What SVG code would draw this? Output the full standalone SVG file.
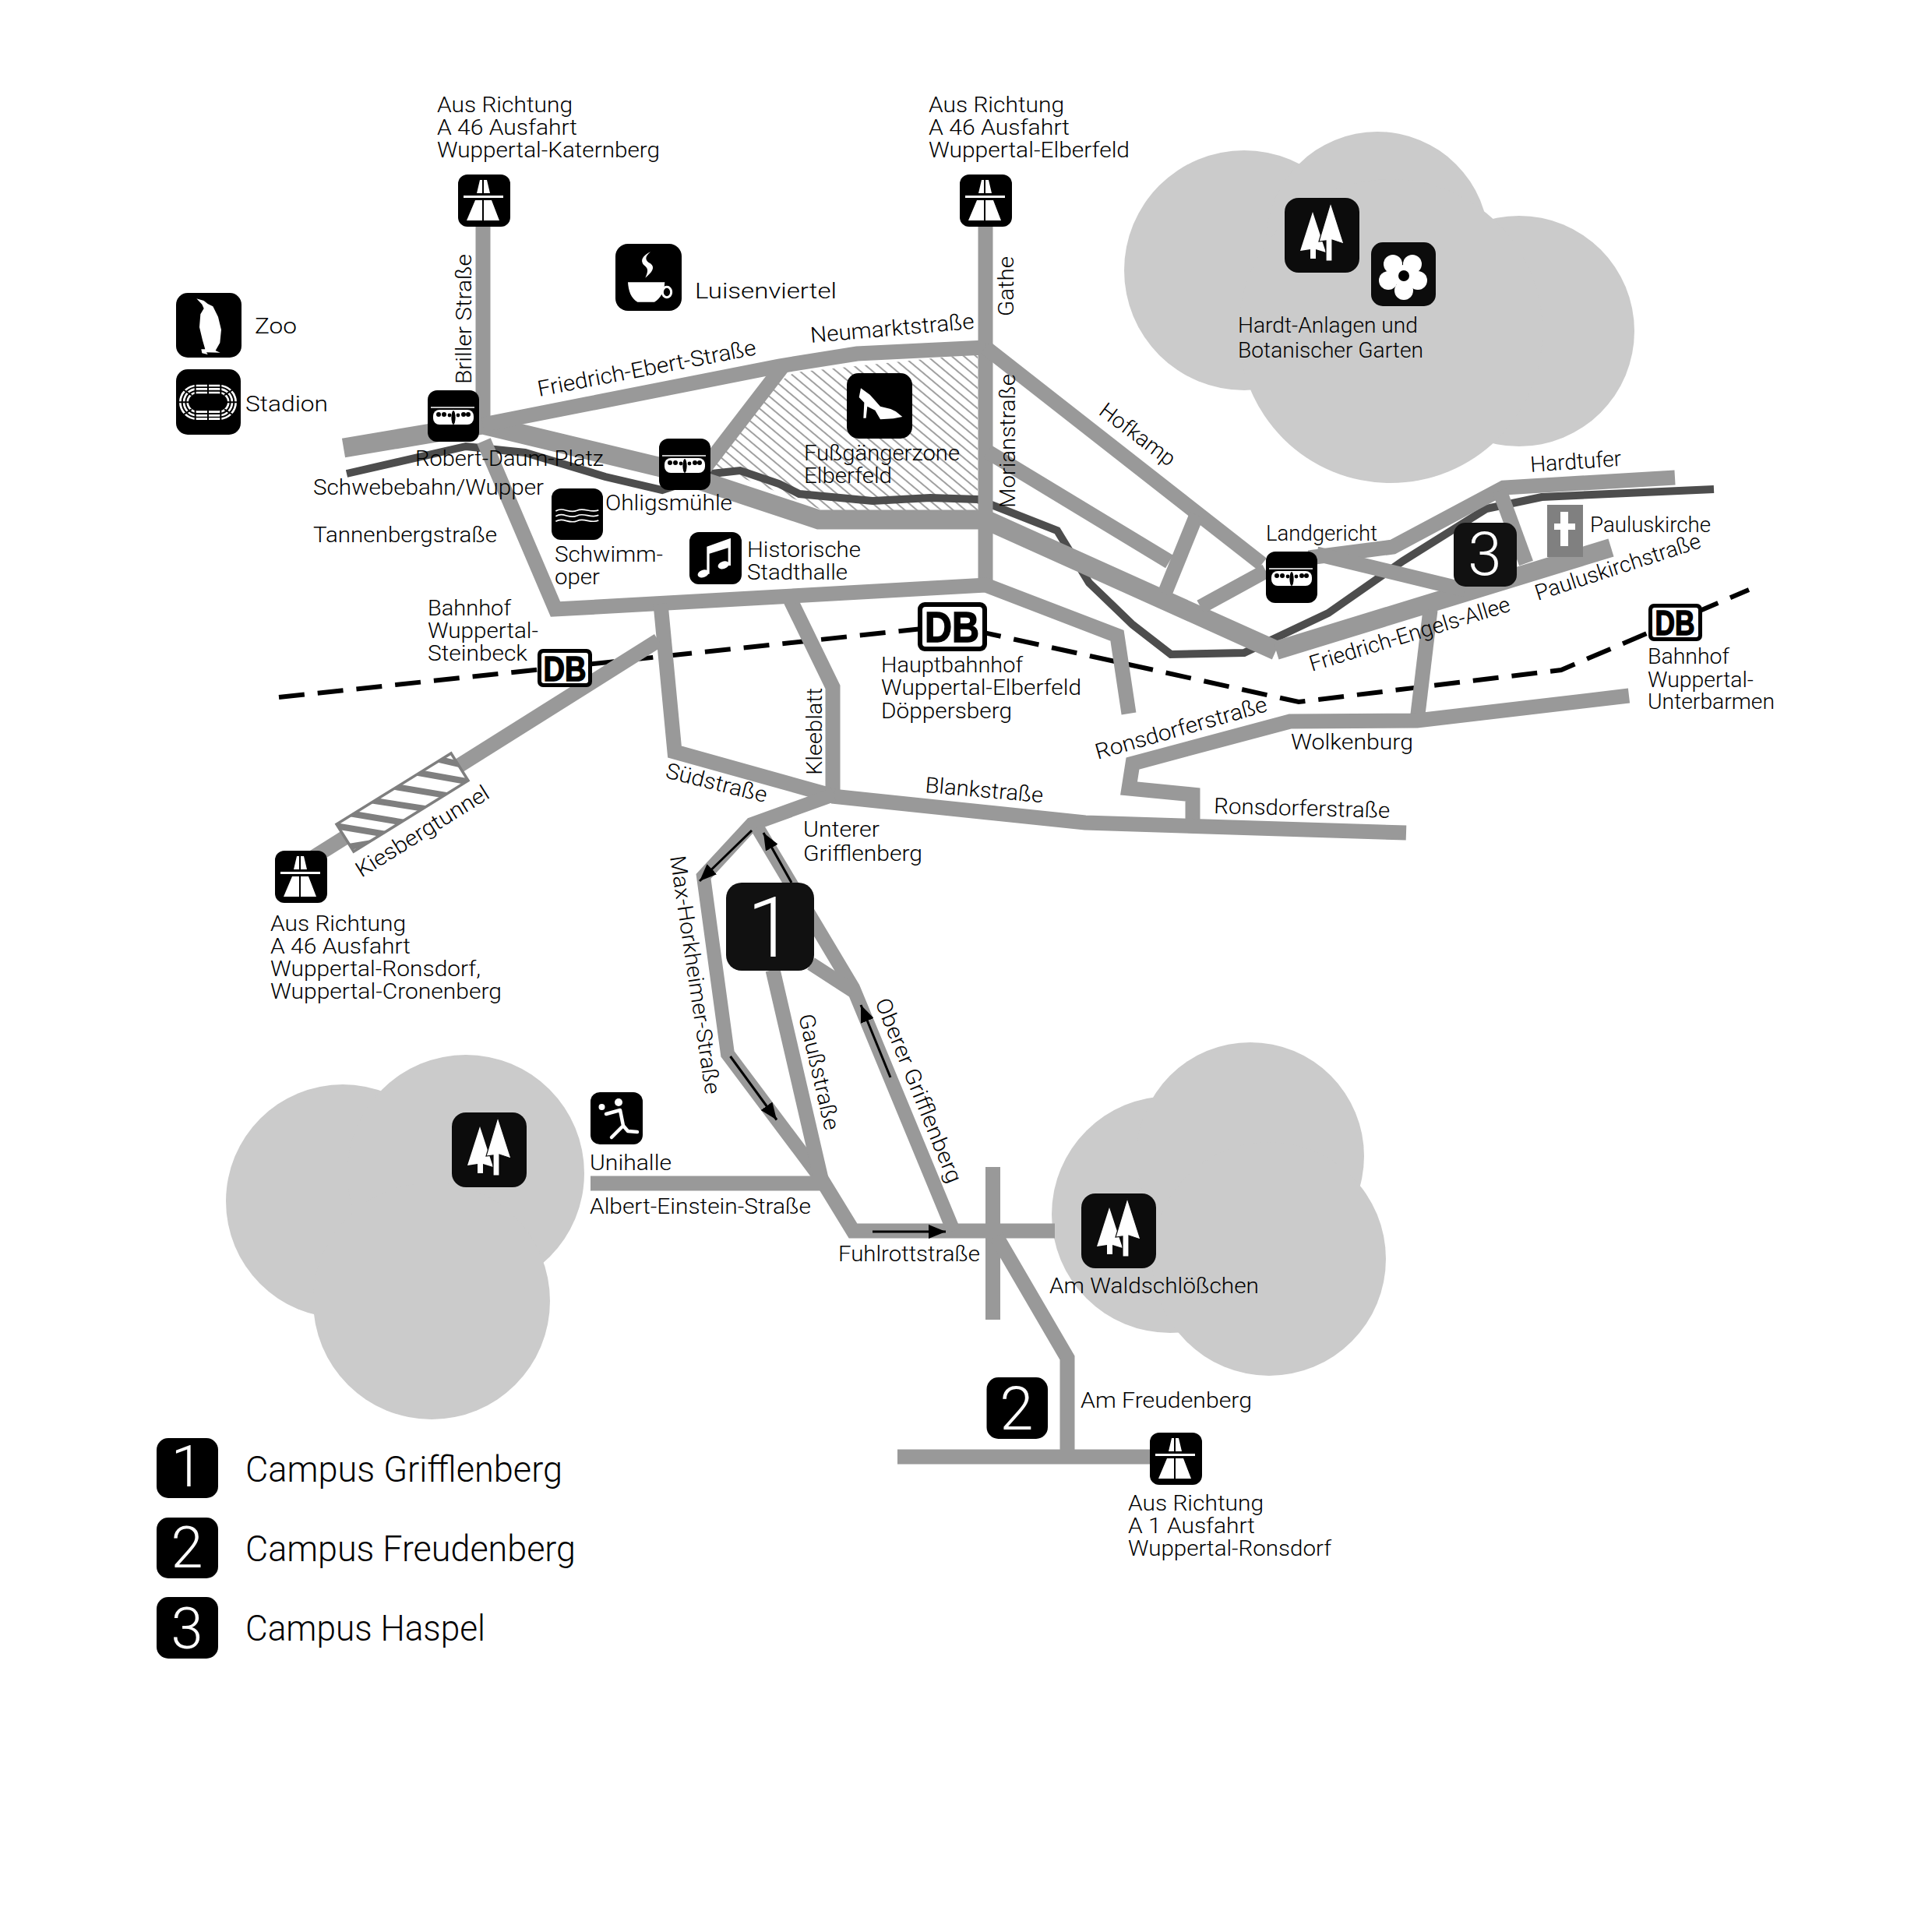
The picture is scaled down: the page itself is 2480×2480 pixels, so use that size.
<svg xmlns="http://www.w3.org/2000/svg" width="2480" height="2480" viewBox="0 0 2480 2480">
<style>
text{font-family:"Roboto","Liberation Sans",sans-serif;font-weight:300;font-size:28px;fill:#000}
.big{font-size:46px}
.num{fill:#fff;text-anchor:middle}
.db{font-family:"Liberation Sans",sans-serif;font-weight:700;stroke:#000;stroke-width:1.5px;text-anchor:start}
.r{fill:none;stroke:#999;stroke-width:19;stroke-linejoin:miter}
.cl{fill:#cbcbcb}
.ar{fill:none;stroke:#000;stroke-width:3;marker-end:url(#ah)}
.w{fill:#fff}
.ws{fill:none;stroke:#fff}
</style>
<defs>
<marker id="ah" markerUnits="userSpaceOnUse" markerWidth="24" markerHeight="18" refX="22" refY="9" orient="auto"><path d="M0,0L22,9L0,18Z"/></marker>
<pattern id="hatch" width="10" height="10" patternUnits="userSpaceOnUse" patternTransform="rotate(40)"><line x1="0" y1="5" x2="10" y2="5" stroke="#777" stroke-width="1.4"/></pattern>
<clipPath id="tun"><path d="M579,967L601,1002L454,1093L432,1058Z"/></clipPath>
<g id="autobahn"><rect width="67" height="67" rx="12"/><path class="w" d="M11,59L31,59L31,33L22,33ZM33,33L33,59L53,59L43,33ZM24,24L31,24L31,7L28,7ZM33,24L41,24L37,7L33,7ZM7,27H58V30H7Z"/></g>
<g id="schwebe"><rect width="66" height="66" rx="12"/><path class="ws" stroke-width="1.5" d="M4,22H60"/><rect class="w" x="7" y="25" width="52" height="19" rx="8"/><g><circle cx="14" cy="31" r="3"/><circle cx="21" cy="31" r="3"/><circle cx="28" cy="32" r="2.4"/><ellipse cx="33" cy="35" rx="2.6" ry="9"/><circle cx="39" cy="32" r="2.4"/><circle cx="46" cy="31" r="3"/><circle cx="52" cy="31" r="3"/></g></g>
<g id="trees"><rect width="96" height="96" rx="18" fill="#0c0c0c"/><path class="w" d="M36,18L53,70L40,66V78H33V66L20,68Z"/><path class="w" stroke="#0c0c0c" stroke-width="1.2" d="M59,6L76,59L61,54V81H53V55L44,56Z"/></g>
</defs>
<g id="clouds">
<circle class="cl" cx="1597" cy="347" r="154"/><circle class="cl" cx="1768" cy="312" r="143"/><circle class="cl" cx="1950" cy="425" r="148"/><circle class="cl" cx="1785" cy="425" r="195"/>
<circle class="cl" cx="440" cy="1542" r="150"/><circle class="cl" cx="598" cy="1506" r="152"/><circle class="cl" cx="554" cy="1670" r="152"/>
<circle class="cl" cx="1502" cy="1559" r="152"/><circle class="cl" cx="1605" cy="1484" r="146"/><circle class="cl" cx="1629" cy="1616" r="150"/>
</g>
<path id="fussgaengerzone" d="M1020,478L1255,454V655H1056L917,599L1000,490Z" fill="url(#hatch)"/>
<g id="connectors">
<path fill="none" stroke="#4d4d4d" stroke-width="10" d="M445,608L598,573L674,581L777,612L850,629L914,608L950,604L1000,621L1026,634L1120,643L1194,639L1255,641L1357,681L1398,748L1454,802L1503,840L1597,838L1705,787L1801,720L1908,653L1979,638L2200,628"/>
<path fill="none" stroke="#000" stroke-width="6" stroke-dasharray="33 17" d="M358,895L1222,803L1667,901L2004,860L2245,757"/>
<path class="r" style="stroke-width:25" d="M441,575L620,545L845,599L1051,667L1265,667L1638,835"/>
<path class="r" style="stroke-width:24" d="M1638,835L2068,703"/>
<path class="r" d="M620,260V545"/><path class="r" d="M1265,260V750"/>
<path class="r" d="M620,545L1000,470L1100,454L1265,446"/>
<path class="r" d="M1005,470L905,600"/>
<path class="r" d="M1265,446L1620,724"/><path class="r" d="M1268,580L1501,721"/><path class="r" d="M1536,661L1495,762"/><path class="r" d="M1541,779L1625,733"/>
<path class="r" d="M1680,716L1788,702L1930,626L2150,613"/><path class="r" d="M1690,711L1880,757"/><path class="r" d="M1925,630L1959,723"/><path class="r" d="M1836,783L1819,925"/>
<path class="r" d="M2091,893L1819,925L1656,926L1454,980L1449,1012L1531,1020V1056"/>
<path class="r" d="M1068,1022L1393,1056L1805,1069"/>
<path class="r" d="M1015,771L1069,882V1025"/>
<path class="r" d="M621,566L713,782L1000,766L1265,751L1434,816L1449,916"/>
<path class="r" d="M848,775L866,965L1070,1022"/>
<path class="r" d="M845,822L395,1105"/>
<path class="r" style="stroke-width:18" d="M1070,1020L965,1058L903,1125L934,1353L1054,1513"/>
<path class="r" d="M992,1245L1054,1513"/>
<path class="r" d="M1054,1513L1095,1580H1354"/>
<path class="r" style="stroke-width:18" d="M972,1062L1095,1268L1224,1580"/>
<path class="r" style="stroke-width:18" d="M1041,1237L1095,1272"/>
<path class="r" d="M758,1519H1058"/><path class="r" d="M1274.5,1498V1694"/><path class="r" d="M1279,1587L1370,1743V1870"/><path class="r" d="M1152,1870H1478"/>
<g id="kiesbergtunnel"><path d="M579,967L601,1002L454,1093L432,1058Z" fill="#fff"/><g clip-path="url(#tun)" stroke="#7f7f7f" stroke-width="8"><path d="M547,971L607,985M520,989L610,1005M495,1008L585,1023M468,1026L558,1040M442,1043L532,1058M418,1058L508,1073M430,1090L490,1080"/></g><path d="M579,967L601,1002L454,1093L432,1058Z" fill="none" stroke="#7f7f7f" stroke-width="3.5"/></g>
<path class="ar" d="M965,1066L898,1131"/><path class="ar" d="M1016,1133L980,1069"/><path class="ar" d="M1143,1383L1105,1290"/><path class="ar" d="M937.5,1356L997,1437.5"/><path class="ar" d="M1120,1581H1214"/>
</g>
<g id="db-steinbeck"><rect x="690" y="833" width="70" height="49" rx="7"/><rect x="695" y="838" width="60" height="39" rx="3" fill="#fff"/><text class="db" x="697.5" y="873.5" style="font-size:45px" textLength="55" lengthAdjust="spacingAndGlyphs">DB</text></g>
<g id="db-hbf"><rect x="1178" y="773" width="89" height="63" rx="9"/><rect x="1184" y="779" width="77" height="51" rx="4" fill="#fff"/><text class="db" x="1187" y="824" style="font-size:56px" textLength="70" lengthAdjust="spacingAndGlyphs">DB</text></g>
<g id="db-unterbarmen"><rect x="2116" y="775" width="69" height="48" rx="7"/><rect x="2121" y="780" width="59" height="38" rx="3" fill="#fff"/><text class="db" x="2124.5" y="815" style="font-size:44px" textLength="51" lengthAdjust="spacingAndGlyphs">DB</text></g>
<g id="autobahn-katernberg"><use href="#autobahn" x="588" y="224"/><text x="561" y="144" textLength="174" lengthAdjust="spacingAndGlyphs">Aus Richtung</text><text x="561" y="173" textLength="180" lengthAdjust="spacingAndGlyphs">A 46 Ausfahrt</text><text x="561" y="202" textLength="286" lengthAdjust="spacingAndGlyphs">Wuppertal-Katernberg</text></g>
<g id="autobahn-elberfeld"><use href="#autobahn" x="1232" y="224"/><text x="1192" y="144" textLength="174" lengthAdjust="spacingAndGlyphs">Aus Richtung</text><text x="1192" y="173" textLength="181" lengthAdjust="spacingAndGlyphs">A 46 Ausfahrt</text><text x="1192" y="202" textLength="258" lengthAdjust="spacingAndGlyphs">Wuppertal-Elberfeld</text></g>
<g id="autobahn-ronsdorf"><use href="#autobahn" x="353" y="1092"/><text x="347" y="1195" textLength="174" lengthAdjust="spacingAndGlyphs">Aus Richtung</text><text x="347" y="1224" textLength="180" lengthAdjust="spacingAndGlyphs">A 46 Ausfahrt</text><text x="347" y="1253" textLength="270" lengthAdjust="spacingAndGlyphs">Wuppertal-Ronsdorf,</text><text x="347" y="1282" textLength="297" lengthAdjust="spacingAndGlyphs">Wuppertal-Cronenberg</text></g>
<g id="autobahn-a1"><use href="#autobahn" x="1476" y="1839"/><text x="1448" y="1939" textLength="174" lengthAdjust="spacingAndGlyphs">Aus Richtung</text><text x="1448" y="1968" textLength="163" lengthAdjust="spacingAndGlyphs">A 1 Ausfahrt</text><text x="1448" y="1997" textLength="261" lengthAdjust="spacingAndGlyphs">Wuppertal-Ronsdorf</text></g>
<g id="robert-daum-platz"><use href="#schwebe" x="549" y="501"/><text x="533" y="598" textLength="242" lengthAdjust="spacingAndGlyphs">Robert-Daum-Platz</text></g>
<g id="ohligsmuehle"><use href="#schwebe" x="846" y="563"/><text x="777" y="655" textLength="163" lengthAdjust="spacingAndGlyphs">Ohligsmühle</text></g>
<g id="landgericht"><use href="#schwebe" x="1625" y="708"/><text x="1625" y="694" textLength="143" lengthAdjust="spacingAndGlyphs">Landgericht</text></g>
<g id="zoo"><rect x="226" y="376" width="84" height="83" rx="15"/><path class="w" transform="translate(220,370) scale(.3333)" d="M97,40L125,48L140,60L160,70L180,110L192,160L187,210L170,240L188,248L135,247L140,255L118,250L115,235L130,235L120,200L108,150L112,100L125,78L118,62Z"/><text x="327" y="428" textLength="54" lengthAdjust="spacingAndGlyphs">Zoo</text></g>
<g id="stadion"><rect x="226" y="474" width="83" height="84" rx="15"/><g transform="translate(220,370) scale(.3333)"><g class="ws" stroke-width="8"><rect x="34" y="375" width="214" height="128" rx="64"/><rect x="48" y="388" width="186" height="102" rx="51"/><rect x="62" y="402" width="158" height="74" rx="37"/></g><path fill="none" stroke="#000" stroke-width="6" d="M92,365V412M141,365V412M190,365V412M92,466V512M141,466V512M190,466V512M25,439H72M210,439H257M45,390L78,412M237,390L204,412M45,488L78,466M237,488L204,466"/></g><text x="315" y="528" textLength="106" lengthAdjust="spacingAndGlyphs">Stadion</text></g>
<g id="luisenviertel"><rect x="790" y="313" width="85" height="86" rx="16"/><g transform="translate(780,305) scale(.3333)"><path class="w" d="M78,172H220C218,205 205,235 180,248H115C90,235 80,205 78,172Z"/><ellipse class="ws" stroke-width="9" cx="228" cy="210" rx="17" ry="20"/><path class="w" d="M165,55C145,65 125,80 135,100C145,115 165,115 145,155C170,135 185,115 165,100C145,90 140,75 165,55Z"/></g><text x="892" y="383" textLength="182" lengthAdjust="spacingAndGlyphs">Luisenviertel</text></g>
<g id="schwimmoper"><rect x="708" y="627" width="66" height="66" rx="12"/><g transform="translate(700,620) scale(.3333)" class="ws" stroke-width="5"><path d="M40,108C70,90 90,120 122,106C150,92 175,118 205,104"/><path d="M40,128C70,110 90,140 122,126C150,112 175,138 205,124"/><path d="M40,148C70,130 90,160 122,146C150,132 175,158 205,144"/></g><text x="712" y="721" textLength="139" lengthAdjust="spacingAndGlyphs">Schwimm-</text><text x="712" y="750" textLength="58" lengthAdjust="spacingAndGlyphs">oper</text></g>
<g id="stadthalle"><rect x="885" y="683" width="67" height="67" rx="12"/><g transform="translate(700,620) scale(.3333)"><path class="w" d="M622,350V245L714,212V318H704V250L632,272V350Z"/><ellipse class="w" cx="608" cy="349" rx="22" ry="14" transform="rotate(-20 608 349)"/><ellipse class="w" cx="686" cy="316" rx="22" ry="14" transform="rotate(-20 686 316)"/></g><text x="959" y="715" textLength="146" lengthAdjust="spacingAndGlyphs">Historische</text><text x="959" y="744" textLength="129" lengthAdjust="spacingAndGlyphs">Stadthalle</text></g>
<g id="fussgaengerzone-icon"><rect x="1087" y="479" width="84" height="84" rx="15"/><path class="w" transform="translate(1080,470) scale(.3333)" d="M75,85L110,110L150,155L190,165L210,175L235,195L200,202L150,205L130,170L100,155L95,200L85,200L88,140L68,120Z"/><text x="1032" y="591" textLength="200" lengthAdjust="spacingAndGlyphs">Fußgängerzone</text><text x="1032" y="620" textLength="113" lengthAdjust="spacingAndGlyphs">Elberfeld</text></g>
<g id="hardt-anlagen"><use href="#trees" x="1649" y="254"/><rect x="1760" y="311" width="83" height="82" rx="15" fill="#0c0c0c"/><g transform="translate(1760,311)"><circle class="w" cx="28" cy="28" r="12"/><circle class="w" cx="53" cy="28" r="12"/><circle class="w" cx="60" cy="49" r="12"/><circle class="w" cx="42" cy="62" r="12"/><circle class="w" cx="22" cy="49" r="12"/><circle class="w" cx="42" cy="43" r="14"/><circle cx="42" cy="43" r="7"/></g><text x="1589" y="427" textLength="231" lengthAdjust="spacingAndGlyphs">Hardt-Anlagen und</text><text x="1589" y="459" textLength="238" lengthAdjust="spacingAndGlyphs">Botanischer Garten</text></g>
<g id="wald-west"><use href="#trees" x="580" y="1428"/></g>
<g id="waldschloesschen"><use href="#trees" x="1388" y="1532"/><text x="1347" y="1660" textLength="269" lengthAdjust="spacingAndGlyphs">Am Waldschlößchen</text></g>
<g id="unihalle"><rect x="758" y="1402" width="67" height="67" rx="12"/><g transform="translate(758,1402)"><circle class="w" cx="14.5" cy="19" r="4"/><circle class="w" cx="36" cy="13" r="5"/><path class="ws" stroke-width="4.5" stroke-linecap="round" stroke-linejoin="round" d="M20,28L38,23L42,43L27,58M42,43L48,50L60,51"/></g><text x="757" y="1502" textLength="105" lengthAdjust="spacingAndGlyphs">Unihalle</text></g>
<g id="pauluskirche"><rect x="1986" y="648" width="46" height="67" fill="#808080"/><path class="w" d="M2003,657H2013V672H2022V680H2013V701H2003V680H1995V672H2003Z"/><text x="2041" y="683" textLength="155" lengthAdjust="spacingAndGlyphs">Pauluskirche</text></g>
<g id="campus-1"><rect x="932" y="1133" width="113" height="113" rx="20" fill="#111"/><text class="num" x="989" y="1228" style="font-size:108px">1</text></g>
<g id="campus-2"><rect x="1266.5" y="1768" width="78.5" height="79" rx="15"/><text class="num" x="1305" y="1835" style="font-size:78px">2</text></g>
<g id="campus-3"><rect x="1866" y="671" width="81" height="82" rx="15" fill="#111"/><text class="num" x="1906" y="738" style="font-size:78px">3</text></g>
<g id="legend-1"><rect x="201" y="1846" width="79" height="77" rx="15"/><text class="num" x="240" y="1908" style="font-size:74px">1</text><text class="big" x="315" y="1902" textLength="407" lengthAdjust="spacingAndGlyphs">Campus Grifflenberg</text></g>
<g id="legend-2"><rect x="201" y="1948" width="79" height="78" rx="15"/><text class="num" x="240" y="2012" style="font-size:74px">2</text><text class="big" x="315" y="2004" textLength="424" lengthAdjust="spacingAndGlyphs">Campus Freudenberg</text></g>
<g id="legend-3"><rect x="201" y="2050" width="79" height="79" rx="15"/><text class="num" x="240" y="2116" style="font-size:74px">3</text><text class="big" x="315" y="2106" textLength="308" lengthAdjust="spacingAndGlyphs">Campus Haspel</text></g>
<g id="labels">
<text x="549" y="790" textLength="107" lengthAdjust="spacingAndGlyphs">Bahnhof</text><text x="549" y="819" textLength="142" lengthAdjust="spacingAndGlyphs">Wuppertal-</text><text x="549" y="848" textLength="128" lengthAdjust="spacingAndGlyphs">Steinbeck</text>
<text x="1131" y="863" textLength="182" lengthAdjust="spacingAndGlyphs">Hauptbahnhof</text><text x="1131" y="892" textLength="257" lengthAdjust="spacingAndGlyphs">Wuppertal-Elberfeld</text><text x="1131" y="922" textLength="168" lengthAdjust="spacingAndGlyphs">Döppersberg</text>
<text x="2115" y="852" textLength="105" lengthAdjust="spacingAndGlyphs">Bahnhof</text><text x="2115" y="882" textLength="136" lengthAdjust="spacingAndGlyphs">Wuppertal-</text><text x="2115" y="910" textLength="163" lengthAdjust="spacingAndGlyphs">Unterbarmen</text>
<text transform="translate(604.6,493) rotate(-90)" textLength="167" lengthAdjust="spacingAndGlyphs">Briller Straße</text>
<text transform="translate(692,509) rotate(-10.9)" textLength="285" lengthAdjust="spacingAndGlyphs">Friedrich-Ebert-Straße</text>
<text x="402" y="635" textLength="296" lengthAdjust="spacingAndGlyphs">Schwebebahn/Wupper</text>
<text x="402" y="696" textLength="236" lengthAdjust="spacingAndGlyphs">Tannenbergstraße</text>
<text transform="translate(1041,440) rotate(-5)" textLength="211" lengthAdjust="spacingAndGlyphs">Neumarktstraße</text>
<text transform="translate(1301,406) rotate(-90)" textLength="77" lengthAdjust="spacingAndGlyphs">Gathe</text>
<text transform="translate(1302.5,652) rotate(-90)" textLength="172" lengthAdjust="spacingAndGlyphs">Morianstraße</text>
<text transform="translate(1409,531) rotate(37)" textLength="114" lengthAdjust="spacingAndGlyphs">Hofkamp</text>
<text transform="translate(1965,606) rotate(-4)" textLength="117" lengthAdjust="spacingAndGlyphs">Hardtufer</text>
<text transform="translate(1974,771) rotate(-18)" textLength="222" lengthAdjust="spacingAndGlyphs">Pauluskirchstraße</text>
<text transform="translate(1684,862) rotate(-16.9)" textLength="268" lengthAdjust="spacingAndGlyphs">Friedrich-Engels-Allee</text>
<text transform="translate(1055,995) rotate(-90)" textLength="112" lengthAdjust="spacingAndGlyphs">Kleeblatt</text>
<text transform="translate(1409,975) rotate(-15.9)" textLength="228" lengthAdjust="spacingAndGlyphs">Ronsdorferstraße</text>
<text x="1657" y="961.6" textLength="157" lengthAdjust="spacingAndGlyphs">Wolkenburg</text>
<text transform="translate(1187,1017) rotate(5)" textLength="152" lengthAdjust="spacingAndGlyphs">Blankstraße</text>
<text transform="translate(1558,1044) rotate(1.5)" textLength="226" lengthAdjust="spacingAndGlyphs">Ronsdorferstraße</text>
<text transform="translate(853,998) rotate(14)" textLength="133" lengthAdjust="spacingAndGlyphs">Südstraße</text>
<text x="1031" y="1074" textLength="98" lengthAdjust="spacingAndGlyphs">Unterer</text><text x="1031" y="1105" textLength="153" lengthAdjust="spacingAndGlyphs">Grifflenberg</text>
<text transform="translate(860,1100) rotate(81.5)" textLength="309" lengthAdjust="spacingAndGlyphs">Max-Horkheimer-Straße</text>
<text transform="translate(1025,1304) rotate(77)" textLength="152" lengthAdjust="spacingAndGlyphs">Gaußstraße</text>
<text transform="translate(1123,1286) rotate(68)" textLength="253" lengthAdjust="spacingAndGlyphs">Oberer Grifflenberg</text>
<text x="1076" y="1619" textLength="182" lengthAdjust="spacingAndGlyphs">Fuhlrottstraße</text>
<text x="757" y="1558" textLength="284" lengthAdjust="spacingAndGlyphs">Albert-Einstein-Straße</text>
<text transform="translate(464,1127) rotate(-32)" textLength="196" lengthAdjust="spacingAndGlyphs">Kiesbergtunnel</text>
<text x="1387" y="1807" textLength="220" lengthAdjust="spacingAndGlyphs">Am Freudenberg</text>
</g>
</svg>
